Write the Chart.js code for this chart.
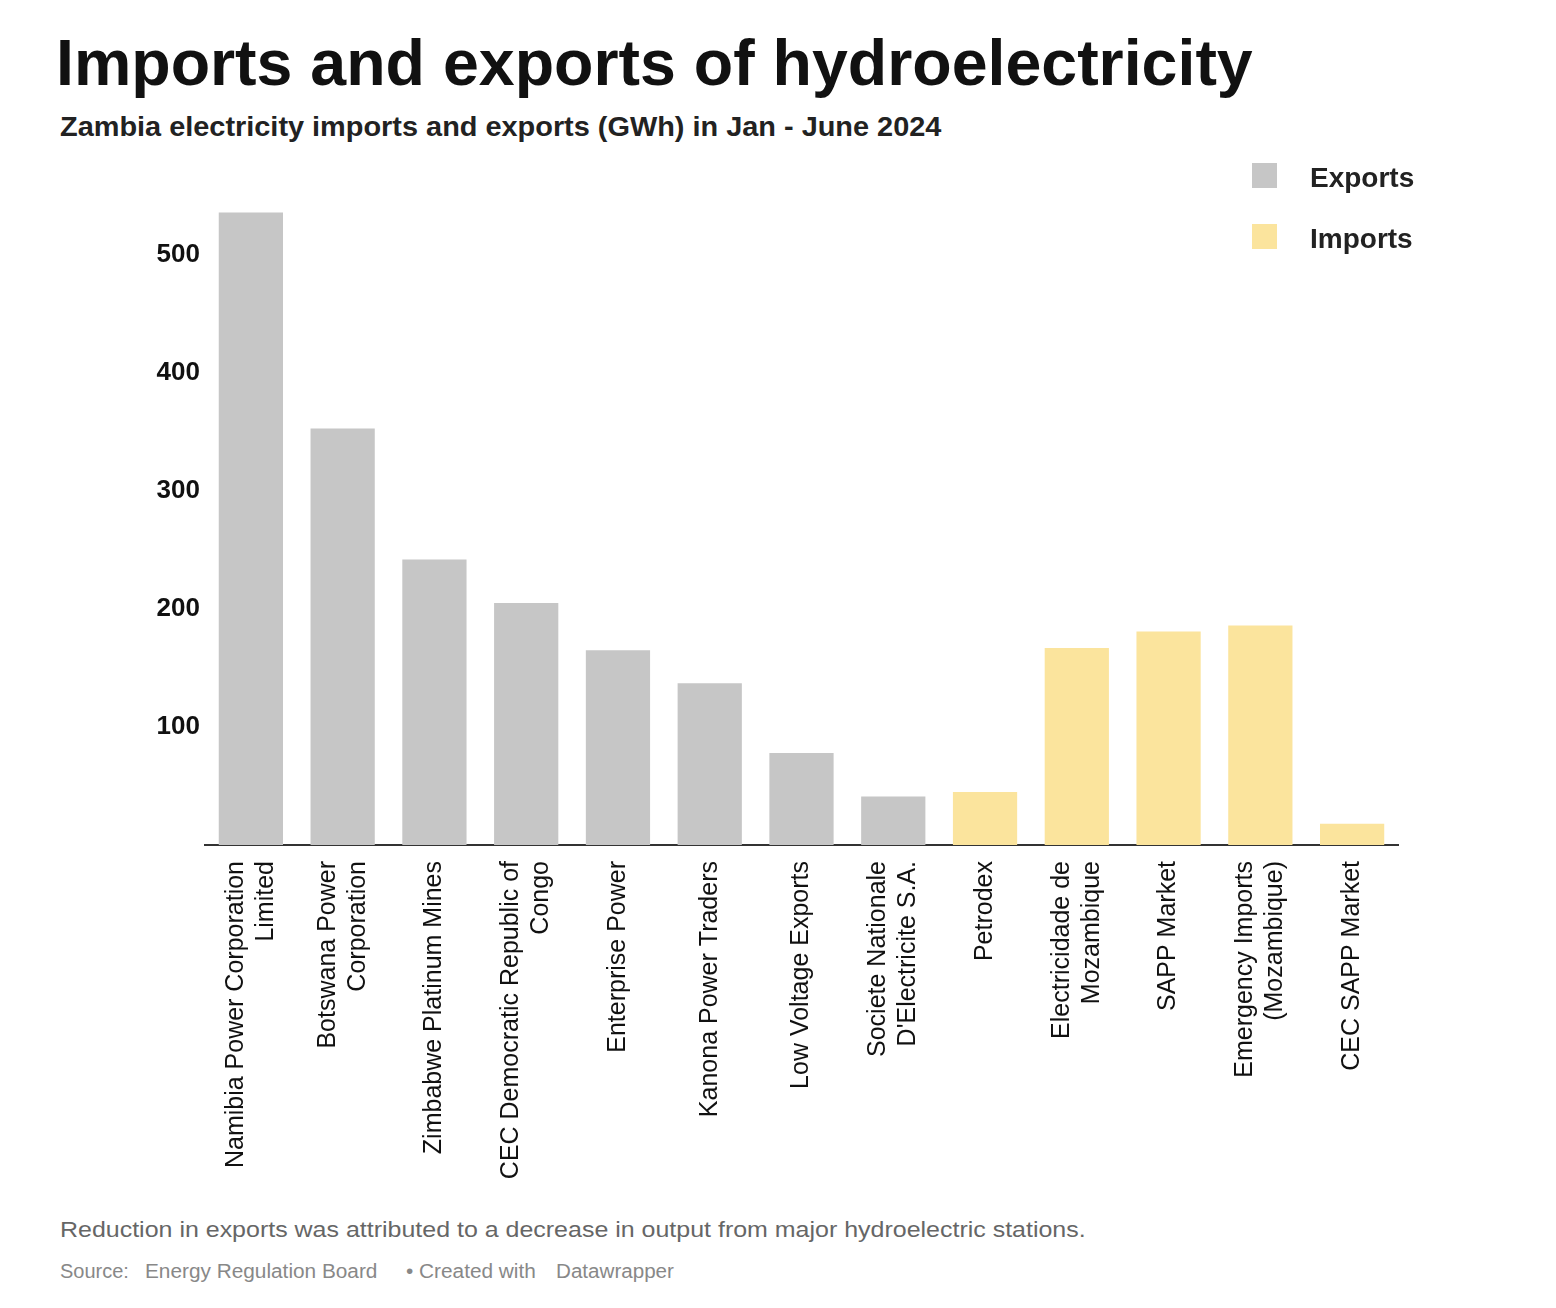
<!DOCTYPE html>
<html>
<head>
<meta charset="utf-8">
<script src="https://cdn.jsdelivr.net/npm/chart.js@4"></script>
<style>
  html, body { margin: 0; padding: 0; background: #fff; }
  body { width: 1556px; height: 1308px; position: relative; overflow: hidden; font-family: "Liberation Sans", Arial, sans-serif; }
  #title { position: absolute; left: 56px; top: 30px; font-size: 65px; font-weight: bold; color: #111; white-space: nowrap; line-height: 1; transform-origin: left top; transform: scaleX(0.992); }
  #subtitle { position: absolute; left: 60px; top: 114px; font-size: 27px; font-weight: bold; color: #222; white-space: nowrap; line-height: 1; transform-origin: left top; transform: scaleX(1.07); }
  #chartWrap { position: absolute; left: 0; top: 0; width: 1556px; height: 1200px; }
  .leg { position: absolute; left: 1252px; font-size: 28px; font-weight: bold; color: #222; white-space: nowrap; }
  .leg .sw { position: absolute; left: 0; width: 25px; height: 25px; }
  .leg .tx { position: absolute; left: 58px; line-height: 1; }
  #note { position: absolute; left: 60px; top: 1219px; font-size: 22px; color: #666; white-space: nowrap; line-height: 1; transform-origin: left top; transform: scaleX(1.135); }
  .src { position: absolute; top: 1261px; font-size: 20px; color: #888; white-space: nowrap; line-height: 1; transform-origin: left top; }
</style>
</head>
<body>
<div id="title">Imports and exports of hydroelectricity</div>
<div id="subtitle">Zambia electricity imports and exports (GWh) in Jan - June 2024</div>
<div id="chartWrap"><canvas id="c"></canvas></div>
<div class="leg" style="top:163px;"><div class="sw" style="background:#c6c6c6;"></div><div class="tx" style="top:1px;">Exports</div></div>
<div class="leg" style="top:224px;"><div class="sw" style="background:#fbe49d;"></div><div class="tx" style="top:1px;">Imports</div></div>
<div id="note">Reduction in exports was attributed to a decrease in output from major hydroelectric stations.</div>
<div class="src" style="left:60px;">Source:</div>
<div class="src" style="left:145px; transform: scaleX(1.04);">Energy Regulation Board</div>
<div class="src" style="left:406px; transform: scaleX(1.04);">• Created with</div>
<div class="src" style="left:556px; transform: scaleX(1.03);">Datawrapper</div>
<script>
const categories = [
  ["Namibia Power Corporation", "Limited"],
  ["Botswana Power", "Corporation"],
  "Zimbabwe Platinum Mines",
  ["CEC Democratic Republic of", "Congo"],
  "Enterprise Power",
  "Kanona Power Traders",
  "Low Voltage Exports",
  ["Societe Nationale", "D'Electricite S.A."],
  "Petrodex",
  ["Electricidade de", "Mozambique"],
  "SAPP Market",
  ["Emergency Imports", "(Mozambique)"],
  "CEC SAPP Market"
];
const exportsValues = [536, 353, 242, 205, 165, 137, 78, 41, null, null, null, null, null];
const importsValues = [null, null, null, null, null, null, null, null, 45, 167, 181, 186, 18];
const yTickValues = [100, 200, 300, 400, 500];

const CHART_LEFT = 205, CHART_RIGHT = 1398, CHART_TOP = 196, CHART_BOTTOM = 845, CANVAS_H = 1200;
const LABEL_FONT = '25px "Liberation Sans", Arial, sans-serif';
const LABEL_LINE_H = 30;

// Draws the x-axis category labels rotated, each label block centred on its tick pixel.
const centeredRotatedLabels = {
  id: 'centeredRotatedLabels',
  afterDraw(chart) {
    const xs = chart.scales.x;
    const ctx = chart.ctx;
    ctx.save();
    ctx.font = LABEL_FONT;
    ctx.fillStyle = '#111';
    ctx.textAlign = 'right';
    ctx.textBaseline = 'middle';
    const yTop = xs.top + 16;
    chart.data.labels.forEach((lab, i) => {
      const lines = Array.isArray(lab) ? lab : [lab];
      const px = xs.getPixelForTick(i);
      const start = px - (lines.length - 1) * LABEL_LINE_H / 2;
      lines.forEach((ln, j) => {
        ctx.save();
        ctx.translate(start + j * LABEL_LINE_H, yTop);
        ctx.rotate(-Math.PI / 2);
        ctx.fillText(ln, 0, 0);
        ctx.restore();
      });
    });
    ctx.restore();
  }
};

new Chart(document.getElementById('c'), {
  type: 'bar',
  data: {
    labels: categories,
    datasets: [
      { label: 'Exports', data: exportsValues, backgroundColor: '#c6c6c6', barPercentage: 0.7, categoryPercentage: 1.0 },
      { label: 'Imports', data: importsValues, backgroundColor: '#fbe49d', barPercentage: 0.7, categoryPercentage: 1.0 }
    ]
  },
  plugins: [centeredRotatedLabels],
  options: {
    responsive: true,
    maintainAspectRatio: false,
    animation: false,
    devicePixelRatio: 1,
    layout: { padding: { left: 0, right: 1556 - CHART_RIGHT, top: CHART_TOP, bottom: 0 } },
    plugins: { legend: { display: false }, tooltip: { enabled: false } },
    scales: {
      x: {
        stacked: true,
        grid: { display: false, drawTicks: false },
        border: { display: true, color: '#333', width: 2 },
        ticks: { display: false, autoSkip: false },
        afterFit: (s) => { s.height = CANVAS_H - CHART_BOTTOM; }
      },
      y: {
        stacked: true,
        min: 0, max: 550,
        grid: { display: false, drawTicks: false },
        border: { display: false },
        afterBuildTicks: (s) => { s.ticks = yTickValues.map(v => ({ value: v })); },
        afterFit: (s) => { s.width = CHART_LEFT; },
        ticks: {
          padding: 5, color: '#111',
          font: { family: '"Liberation Sans", Arial, sans-serif', size: 26, weight: 'bold' }
        }
      }
    }
  }
});
</script>
</body>
</html>
